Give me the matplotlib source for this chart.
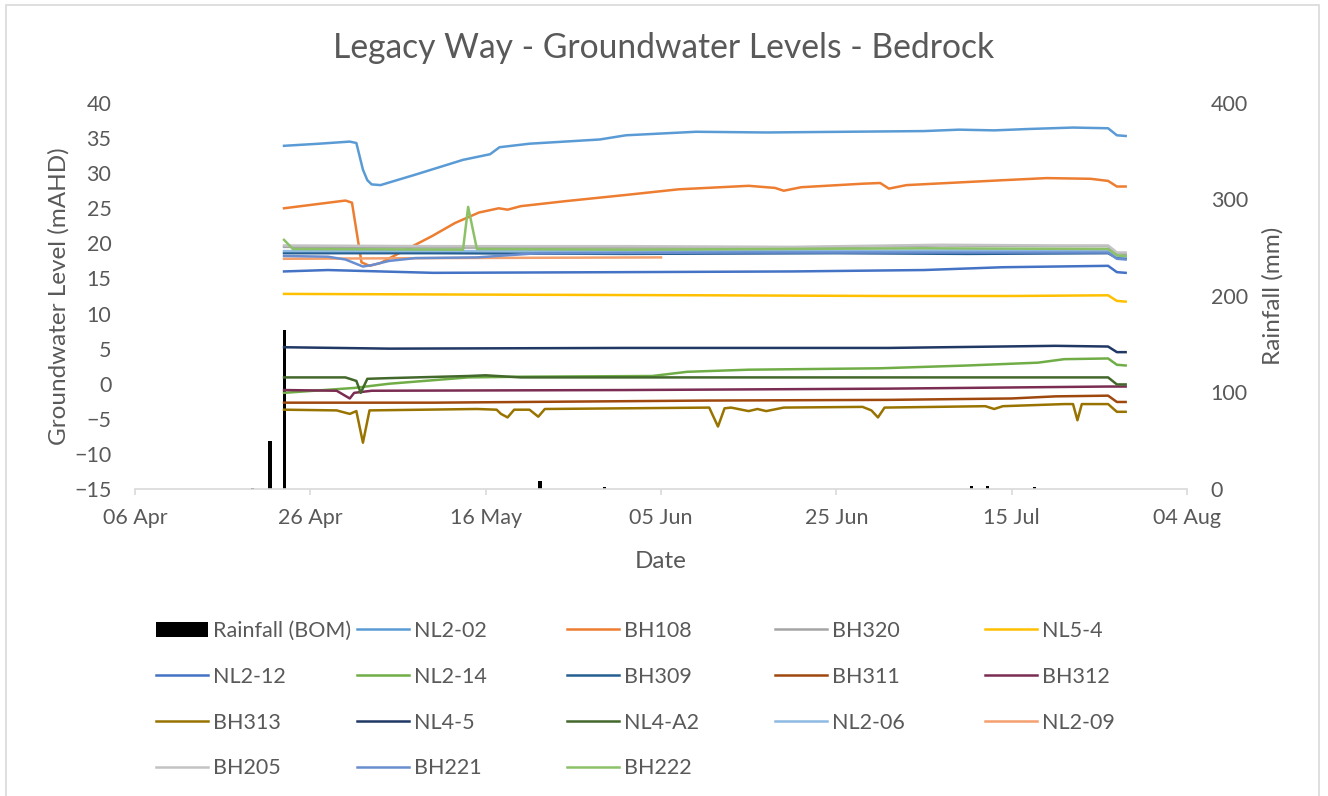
import numpy as np
import pandas as pd
import matplotlib
matplotlib.use('Agg')
import matplotlib.pyplot as plt
from matplotlib.patches import Patch, Rectangle
from matplotlib.lines import Line2D

###### DATA ######
year = '2015-'

rain_t = ['04-19 10:00', '04-21 10:00', '04-23 02:00', '05-22 05:00', '05-29 14:00',
          '07-10 10:00', '07-12 05:00', '07-17 14:00']
rain_v = [1, 50, 165, 8, 2, 3, 3, 2]

nl2_02_t = ['04-23', '04-27', '04-30 12:00', '05-01 06:00', '05-02', '05-02 12:00', '05-03', '05-04',
            '05-08', '05-13 10:00', '05-16 12:00', '05-17 14:00', '05-21', '05-29', '06-01',
            '06-09', '06-17', '06-26', '07-05', '07-09', '07-13', '07-17', '07-22', '07-26', '07-27', '07-28']
nl2_02_v = [33.9, 34.2, 34.5, 34.3, 30.5, 29.0, 28.4, 28.3,
            29.8, 31.9, 32.7, 33.7, 34.2, 34.8, 35.4,
            35.9, 35.8, 35.9, 36.0, 36.2, 36.1, 36.3, 36.5, 36.4, 35.4, 35.3]

bh108_t = ['04-23', '04-30', '04-30 18:00', '05-01 20:00', '05-02 18:00', '05-04', '05-06 14:00',
           '05-09 20:00', '05-12 12:00', '05-15 06:00', '05-17 12:00', '05-18 12:00', '05-20', '05-25',
           '06-01', '06-07', '06-15', '06-18', '06-19', '06-21', '06-28', '06-30', '07-01', '07-03',
           '07-14', '07-19', '07-24', '07-26', '07-27', '07-28']
bh108_v = [25.0, 26.1, 25.8, 17.3, 16.8, 17.2, 18.9,
           21.0, 22.9, 24.4, 25.0, 24.8, 25.3, 26.0,
           26.9, 27.7, 28.2, 27.9, 27.5, 28.0, 28.5, 28.6, 27.8, 28.3,
           29.0, 29.3, 29.2, 28.9, 28.1, 28.1]

bh320_t = ['04-23', '05-10', '06-01', '06-20', '07-07', '07-20', '07-26', '07-27', '07-28']
bh320_v = [19.5, 19.4, 19.4, 19.4, 19.7, 19.6, 19.6, 18.6, 18.5]

nl5_4_t = ['04-23', '05-15', '06-10', '07-01', '07-15', '07-26', '07-27', '07-28']
nl5_4_v = [12.8, 12.7, 12.6, 12.5, 12.5, 12.6, 11.8, 11.7]

nl2_12_t = ['04-23', '04-28', '05-10', '06-01', '06-20', '07-05', '07-14', '07-26', '07-27', '07-28']
nl2_12_v = [16.0, 16.2, 15.8, 15.9, 16.0, 16.2, 16.6, 16.8, 15.9, 15.8]

nl2_14_t = ['04-23', '05-01', '05-05', '05-14', '05-20', '06-04', '06-08', '06-15', '06-30',
            '07-10', '07-18', '07-21', '07-26', '07-27', '07-28']
nl2_14_v = [-1.3, -0.6, 0.0, 0.9, 1.0, 1.1, 1.7, 2.0, 2.2,
            2.6, 3.0, 3.5, 3.6, 2.7, 2.6]

bh309_t = ['04-23', '05-10', '06-01', '06-25', '07-10', '07-26', '07-27', '07-28']
bh309_v = [18.6, 18.6, 18.5, 18.6, 18.5, 18.6, 17.9, 17.9]

bh311_t = ['04-23', '05-10', '06-10', '07-01', '07-15', '07-20', '07-26', '07-27', '07-28']
bh311_v = [-2.7, -2.7, -2.4, -2.3, -2.1, -1.8, -1.7, -2.6, -2.6]

bh312_t = ['04-23', '04-29', '04-30 12:00', '05-01', '05-03', '06-01', '07-01', '07-26', '07-28']
bh312_v = [-0.9, -1.0, -2.1, -1.3, -1.0, -0.9, -0.7, -0.4, -0.4]

bh313_t = ['04-23', '04-29', '04-30 12:00', '05-01 06:00', '05-02', '05-02 18:00', '05-15',
           '05-17 06:00', '05-17 18:00', '05-18 12:00', '05-19 06:00', '05-21', '05-22', '05-22 18:00',
           '06-10 12:00', '06-11 12:00', '06-12 06:00', '06-13', '06-15', '06-16', '06-17', '06-19',
           '06-28', '06-29', '06-29 18:00', '06-30 12:00', '07-12', '07-13', '07-14',
           '07-21', '07-22', '07-22 12:00', '07-23', '07-26', '07-27', '07-28']
bh313_v = [-3.7, -3.8, -4.3, -3.9, -8.4, -3.8, -3.6,
           -3.7, -4.3, -4.8, -3.7, -3.7, -4.7, -3.6,
           -3.4, -6.1, -3.5, -3.4, -3.9, -3.6, -3.9, -3.4,
           -3.3, -3.8, -4.8, -3.4, -3.2, -3.6, -3.2,
           -2.9, -2.9, -5.2, -2.9, -2.9, -4.0, -4.0]

nl4_5_t = ['04-23', '05-05', '06-01', '07-01', '07-20', '07-26', '07-27', '07-28']
nl4_5_v = [5.2, 5.0, 5.1, 5.1, 5.4, 5.3, 4.5, 4.5]

nl4_a2_t = ['04-23', '04-30', '05-01 06:00', '05-01 18:00', '05-02 12:00', '05-05', '05-14', '05-16',
            '05-20', '06-10', '07-10', '07-26', '07-27', '07-28']
nl4_a2_v = [0.9, 0.9, 0.4, -1.3, 0.7, 0.8, 1.1, 1.2,
            0.9, 0.9, 0.9, 0.9, -0.1, -0.1]

nl2_06_t = ['04-23', '05-20', '06-15', '07-10', '07-26', '07-27', '07-28']
nl2_06_v = [18.9, 18.9, 18.9, 19.0, 19.0, 18.2, 18.1]

nl2_09_t = ['04-23', '05-10', '06-05']
nl2_09_v = [17.8, 17.9, 18.0]

bh205_t = ['04-23', '05-10', '06-01', '06-20', '07-07', '07-20', '07-26', '07-27', '07-28']
bh205_v = [19.7, 19.6, 19.6, 19.5, 19.8, 19.7, 19.7, 18.7, 18.7]

bh221_t = ['04-23', '04-28', '04-30', '05-02', '05-03', '05-05', '05-08', '05-15', '05-22',
           '06-15', '07-10', '07-26', '07-27', '07-28']
bh221_v = [18.2, 18.1, 17.7, 16.7, 16.9, 17.5, 17.9, 18.0, 18.6,
           18.7, 18.7, 18.7, 17.8, 17.7]

bh222_t = ['04-23', '04-24', '05-13 10:00', '05-14', '05-15', '06-01', '07-05', '07-26', '07-27', '07-28']
bh222_v = [20.5, 19.2, 19.1, 25.2, 19.2, 19.1, 19.3, 19.2, 18.3, 18.2]

series_names = ['NL2-02', 'BH108', 'BH320', 'NL5-4', 'NL2-12', 'NL2-14', 'BH309', 'BH311', 'BH312',
                'BH313', 'NL4-5', 'NL4-A2', 'NL2-06', 'NL2-09', 'BH205', 'BH221', 'BH222']
series_data = [(nl2_02_t, nl2_02_v), (bh108_t, bh108_v), (bh320_t, bh320_v), (nl5_4_t, nl5_4_v),
               (nl2_12_t, nl2_12_v), (nl2_14_t, nl2_14_v), (bh309_t, bh309_v), (bh311_t, bh311_v),
               (bh312_t, bh312_v), (bh313_t, bh313_v), (nl4_5_t, nl4_5_v), (nl4_a2_t, nl4_a2_v),
               (nl2_06_t, nl2_06_v), (nl2_09_t, nl2_09_v), (bh205_t, bh205_v), (bh221_t, bh221_v),
               (bh222_t, bh222_v)]
series_colors = ['#5B9BD5', '#ED7D31', '#A5A5A5', '#FFC000', '#4472C4', '#70AD47', '#255E91', '#9E480E',
                 '#7B2C52', '#997300', '#203864', '#43682B', '#8DB9E2', '#F4A06E', '#C3C3C3', '#698ED0',
                 '#8CC168']

x_ticks_labels = ['06 Apr', '26 Apr', '16 May', '05 Jun', '25 Jun', '15 Jul', '04 Aug']
y_ticks = [-15, -10, -5, 0, 5, 10, 15, 20, 25, 30, 35, 40]
rain_ticks = [0, 100, 200, 300, 400]


def to_dates(lst):
    return pd.to_datetime([year + s for s in lst], format='mixed')


###### PLOT ######
plt.rcParams['font.family'] = ['Lato', 'DejaVu Sans']
txt_col = '#595959'
fs = 15.5
fs_lab = 17.5

W, H = 1328, 796
fig = plt.figure(figsize=(W / 100, H / 100), dpi=100)
fig.patches.append(Rectangle((6 / W, -0.1), 1313 / W, 1.1 - 5 / H, transform=fig.transFigure,
                             fill=False, edgecolor='#D9D9D9', lw=1.2))

ax = fig.add_axes([135 / W, 1 - 489 / H, 1052 / W, 386 / H])
ax2 = ax.twinx()

# rainfall bars on secondary axis
ax2.bar(to_dates(rain_t), rain_v, width=0.38, color='black', zorder=1)

handles = [Patch(facecolor='black')]
for (t, v), c in zip(series_data, series_colors):
    ax.plot(to_dates(t), v, color=c, lw=1.8, solid_joinstyle='round')
    handles.append(Line2D([], [], color=c, lw=1.8))
labels = ['Rainfall (BOM)'] + series_names

# put line axis above bar axis
ax.set_zorder(ax2.get_zorder() + 1)
ax.patch.set_visible(False)

tick_dates = pd.date_range(year + '04-06', periods=len(x_ticks_labels), freq='20D')
ax.set_xlim(tick_dates[0], tick_dates[-1])
ax.set_xticks(tick_dates)
ax.set_xticklabels(x_ticks_labels)
ax.set_ylim(-15, 40)
ax.set_yticks(y_ticks)
ax2.set_ylim(0, 400)
ax2.set_yticks(rain_ticks)

for a in (ax, ax2):
    for s in a.spines.values():
        s.set_visible(False)
ax.spines['bottom'].set_visible(True)
ax.spines['bottom'].set_color('#D9D9D9')
ax.spines['bottom'].set_linewidth(1.2)

ax.tick_params(axis='x', colors='#D9D9D9', length=4, width=1.2, pad=10, labelsize=fs, labelcolor=txt_col)
ax.tick_params(axis='y', length=0, pad=17, labelsize=fs, labelcolor=txt_col)
ax2.tick_params(axis='y', length=0, pad=17, labelsize=fs, labelcolor=txt_col)

ax.set_xlabel('Date', fontsize=fs_lab, color=txt_col, labelpad=16)
ax.set_ylabel('Groundwater Level (mAHD)', fontsize=fs_lab, color=txt_col, labelpad=3)
ax2.set_ylabel('Rainfall (mm)', fontsize=fs_lab, color=txt_col, labelpad=10)

fig.text(0.5, 1 - 48 / H, 'Legacy Way - Groundwater Levels - Bedrock', ha='center', va='center',
         fontsize=24.2, color=txt_col)

# legend in five equal columns like the spreadsheet layout
col_x = [156, 357, 567, 775, 985]
for k in range(5):
    leg = fig.legend(handles[k::5], labels[k::5], loc='upper left',
                     bbox_to_anchor=(col_x[k] / W, 1 - 621 / H), frameon=False,
                     fontsize=fs, handlelength=2.4, handletextpad=0.25, labelspacing=1.2,
                     borderpad=0, borderaxespad=0)
    for t in leg.get_texts():
        t.set_color(txt_col)

fig.savefig('out.png', dpi=100)
